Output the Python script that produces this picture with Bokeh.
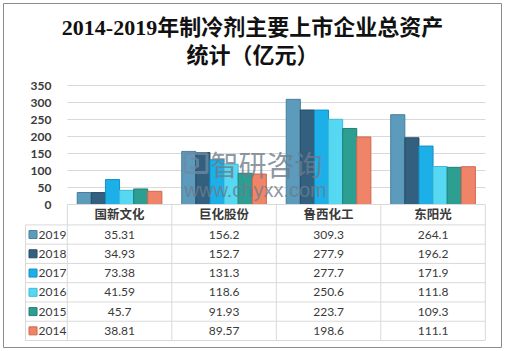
from bokeh.plotting import figure
from bokeh.models import Range1d, FixedTicker, Label, ColumnDataSource
from bokeh.core.properties import value
from bokeh.embed import file_html
from bokeh.resources import INLINE

# ---------------- data ----------------
companies = ["国新文化", "巨化股份", "鲁西化工", "东阳光"]
years = ["2019", "2018", "2017", "2016", "2015", "2014"]
v2019 = [35.31, 156.2, 309.3, 264.1]
v2018 = [34.93, 152.7, 277.9, 196.2]
v2017 = [73.38, 131.3, 277.7, 171.9]
v2016 = [41.59, 118.6, 250.6, 111.8]
v2015 = [45.7, 91.93, 223.7, 109.3]
v2014 = [38.81, 89.57, 198.6, 111.1]
series = [v2019, v2018, v2017, v2016, v2015, v2014]
y_ticks = [0, 50, 100, 150, 200, 250, 300, 350]
title_lines = ["2014-2019年制冷剂主要上市企业总资产", "统计（亿元）"]

# ---------------- style ----------------
fills = ["#5C9BBB", "#33607F", "#1CAFE8", "#56D7F2", "#2C9E92", "#F08468"]
lines = ["#467F9C", "#244B66", "#1391C4", "#3DBBD6", "#1F8076", "#D1674D"]
FONT = "Lato, 'Noto Sans CJK SC', sans-serif"
TITLE_FONT = "'Liberation Serif', 'Noto Sans CJK SC', serif"
TXT = "#3A3A3A"
GRID = "#D9D9D9"
WM = "#6E7C8A"

PX_COL = 104.5       # pixels per column unit
PX_Y = 0.34          # pixels per value unit
LEG_W = 0.4          # width of legend column (in column units)
HEAD_H = 60.0        # header row height (data units)
ROW_H = 340.0 / 6    # row height (data units)
TABLE_BOTTOM = -(HEAD_H + 6 * ROW_H)
n = len(companies)


def sx(px):
    """canvas pixel x -> data x (for decorations only)"""
    return (px - 25) / PX_COL - LEG_W


def sy(py):
    """canvas pixel y -> data y (for decorations only)"""
    return y_ticks[-1] - (py - 85) / PX_Y


# the frame fills the chart box; its outline is the grey border of the chart
p = figure(width=505, height=351, output_backend="svg", toolbar_location=None,
           x_range=Range1d(sx(3), sx(501)), y_range=Range1d(sy(347), sy(3)),
           x_axis_type=None,
           min_border_left=3, min_border_right=4, min_border_top=3, min_border_bottom=4)
p.title = None
p.outline_line_color = "#8C8C8C"
p.outline_line_width = 1
p.background_fill_color = "white"
p.border_fill_color = "white"

# y axis with labels pulled inside the frame
p.yaxis.ticker = FixedTicker(ticks=y_ticks)
p.yaxis.axis_line_color = None
p.yaxis.major_tick_line_color = None
p.yaxis.minor_tick_line_color = None
p.yaxis.major_label_standoff = -54
p.yaxis.major_label_text_font = FONT
p.yaxis.major_label_text_font_size = "12px"
p.yaxis.major_label_text_font_style = "bold"
p.yaxis.major_label_text_color = TXT
p.ygrid.grid_line_color = None
p.xgrid.grid_line_color = None

# title (two lines)
p.text(x=[sx(252)] * 2, y=[sy(26.5), sy(55)], text=title_lines, text_align="center",
       text_baseline="middle", text_font=value(TITLE_FONT), text_font_size="22px",
       text_font_style="bold", text_color="#111111")

# horizontal grid lines of the chart
gy = [t for t in y_ticks if t > 0]
p.segment(x0=[0] * len(gy), x1=[n] * len(gy), y0=gy, y1=gy, line_color=GRID, line_width=1)

# bars
bw = 0.135
for j, (yr, vals) in enumerate(zip(years, series)):
    xs = [i + 0.5 + (j - 2.5) * bw for i in range(n)]
    src = ColumnDataSource(dict(x=xs, top=vals))
    p.vbar(x="x", top="top", bottom=0, width=bw, source=src,
           fill_color=fills[j], line_color=lines[j], line_width=1)

# table grid lines
row_edges = [-HEAD_H - k * ROW_H for k in range(7)]
hx0 = [0] + [-LEG_W] * 7
hx1 = [n] * 8
hy = [0] + row_edges
p.segment(x0=hx0, x1=hx1, y0=hy, y1=hy, line_color=GRID, line_width=1)
vx = [-LEG_W] + list(range(n + 1))
vy0 = [-HEAD_H] + [0] * (n + 1)
p.segment(x0=vx, x1=vx, y0=vy0, y1=[TABLE_BOTTOM] * len(vx), line_color=GRID, line_width=1)

# header
p.text(x=[i + 0.5 for i in range(n)], y=[-HEAD_H / 2] * n, text=companies,
       text_align="center", text_baseline="middle", text_font=value(FONT),
       text_font_size="12.5px", text_font_style="bold", text_color=TXT)

# rows
for j, (yr, vals) in enumerate(zip(years, series)):
    yc = -HEAD_H - (j + 0.5) * ROW_H
    p.text(x=[i + 0.5 for i in range(n)], y=[yc] * n, text=[f"{v:.4g}" for v in vals],
           text_align="center", text_baseline="middle", text_font=value(FONT),
           text_font_size="12px", text_color=TXT)
    p.scatter(x=[-LEG_W + 0.072], y=[yc], marker="square", size=8,
              fill_color=fills[j], line_color=lines[j])
    p.text(x=[-LEG_W + 0.125], y=[yc], text=[yr], text_align="left", text_baseline="middle",
           text_font=value(FONT), text_font_size="12px", text_color=TXT)

# watermark (logo + text), drawn on top
logo = p.rect(x=[sx(195.5)], y=[sy(162.5)], width=22 / PX_COL, height=19 / PX_Y,
              fill_color=None, line_color="#6F8AA3", line_width=3, line_alpha=0.75)
logo.level = "overlay"
bars_in = p.segment(x0=[sx(190), sx(190), sx(197)], x1=[sx(196), sx(196), sx(197)],
                    y0=[sy(158), sy(167), sy(158)], y1=[sy(158), sy(167), sy(167)],
                    line_color="#6F8AA3", line_width=3, line_alpha=0.75)
bars_in.level = "overlay"
p.add_layout(Label(x=sx(210), y=sy(163), text="智研咨询", text_font="'Noto Sans CJK SC'",
                   text_font_size="28px", text_baseline="middle", text_color=WM,
                   text_alpha=0.8, level="overlay"))
p.add_layout(Label(x=sx(184), y=sy(189), text="www.chyxx.com", text_font="'Liberation Sans'",
                   text_font_size="20px", text_baseline="middle", text_color=WM,
                   text_alpha=0.8, level="overlay"))

open("out.html", "w").write(file_html(p, INLINE))
